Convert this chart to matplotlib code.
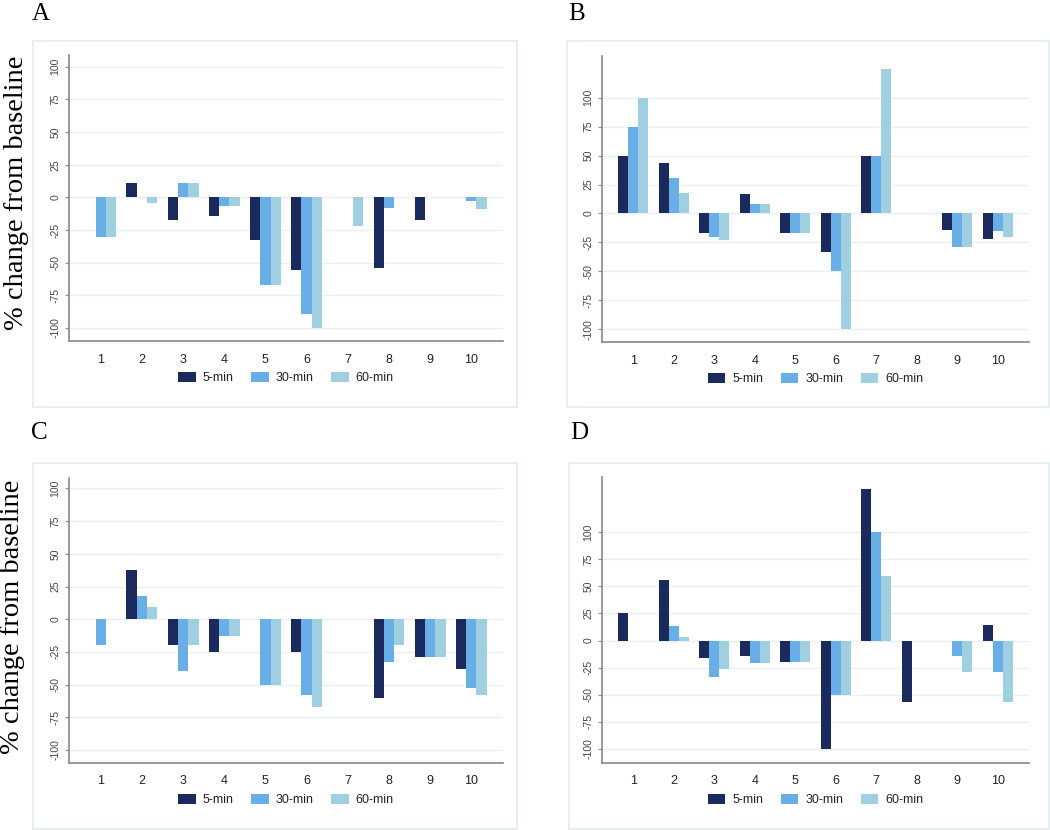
import matplotlib
matplotlib.use("Agg")
import matplotlib.pyplot as plt
from matplotlib.patches import Rectangle
import numpy as np

W, H = 1050, 830

categories = [1, 2, 3, 4, 5, 6, 7, 8, 9, 10]
series_names = ["5-min", "30-min", "60-min"]
series_colors = ["#1b2a5c", "#6aaee8", "#a0cfe1"]
y_ticks = [-100, -75, -50, -25, 0, 25, 50, 75, 100]

# Panel A
a_5min = [0, 11, -17, -14, -33, -56, 0, -54, -17, 0]
a_30min = [-30, 0, 11, -7, -67, -89, 0, -8, 0, -3]
a_60min = [-30, -4, 11, -7, -67, -100, -22, 0, 0, -9]
# Panel B
b_5min = [50, 44, -17, 17, -17, -33, 50, 0, -14, -22]
b_30min = [75, 31, -20, 8, -17, -50, 50, 0, -29, -15]
b_60min = [100, 18, -23, 8, -17, -100, 125, 0, -29, -20]
# Panel C
c_5min = [0, 38, -20, -25, 0, -25, 0, -60, -29, -38]
c_30min = [-20, 18, -40, -13, -50, -58, 0, -33, -29, -53]
c_60min = [0, 9, -20, -13, -50, -67, 0, -20, -29, -58]
# Panel D
d_5min = [25, 56, -16, -14, -20, -100, 140, -57, 0, 14]
d_30min = [0, 13, -34, -21, -20, -50, 100, 0, -14, -29]
d_60min = [0, 3, -26, -21, -20, -50, 60, 0, -29, -57]

panel_letters = ["A", "B", "C", "D"]
y_label = "% change from baseline"

panels = [
    dict(letter="A", data=[a_5min, a_30min, a_60min], ax_px=(69, 55, 503, 341), ylim=(-110, 109),
         frame=(33, 41, 517, 407), letter_xy=(41, 14)),
    dict(letter="B", data=[b_5min, b_30min, b_60min], ax_px=(602, 56, 1029, 342), ylim=(-111, 136),
         frame=(567, 41, 1049, 407), letter_xy=(577, 14)),
    dict(letter="C", data=[c_5min, c_30min, c_60min], ax_px=(69, 478, 503, 763), ylim=(-110, 108),
         frame=(33, 463, 517, 829), letter_xy=(39, 433)),
    dict(letter="D", data=[d_5min, d_30min, d_60min], ax_px=(602, 477, 1029, 763), ylim=(-113, 151),
         frame=(569, 463, 1049, 829), letter_xy=(579, 433)),
]

fig = plt.figure(figsize=(W / 100, H / 100), dpi=100)
fig.patch.set_facecolor("white")

def fx(px):
    return px / W

def fy(py):
    return 1 - py / H

for p in panels:
    # frame
    x0, y0, x1, y1 = p["frame"]
    fig.patches.append(Rectangle((fx(x0), fy(y1)), fx(x1 - x0), (y1 - y0) / H,
                                 transform=fig.transFigure, fill=False,
                                 edgecolor="#e3ebf0", linewidth=1.2, zorder=0))
    # letter
    fig.text(fx(p["letter_xy"][0]), fy(p["letter_xy"][1]), p["letter"],
             family="Liberation Serif", fontsize=18, ha="center", va="center")

    l, t, r, b = p["ax_px"]
    ax = fig.add_axes([fx(l), fy(b), fx(r - l), (b - t) / H])
    x = np.arange(len(categories)) + 1
    bw = 0.25
    for i, (vals, name, col) in enumerate(zip(p["data"], series_names, series_colors)):
        ax.bar(x + (i - 1) * bw, vals, width=bw, color=col, label=name, zorder=3, linewidth=0)
    ax.set_xlim(0.23, 10.77)
    ax.set_ylim(*p["ylim"])
    ax.set_yticks(y_ticks)
    ax.set_yticklabels([str(v) for v in y_ticks], rotation=90, va="center",
                       fontsize=7.5, color="#444444", family="Liberation Sans")
    ax.set_xticks(x)
    ax.set_xticklabels([str(c) for c in categories], fontsize=9, color="#222222",
                       family="Liberation Sans")
    ax.tick_params(axis="x", length=0, pad=9)
    ax.tick_params(axis="y", length=3, width=0.8, color="#888888", pad=3)
    ax.grid(axis="y", color="#e8f0f3", linewidth=1.0, zorder=0)
    for s in ["top", "right"]:
        ax.spines[s].set_visible(False)
    for s in ["left", "bottom"]:
        ax.spines[s].set_color("#888888")
        ax.spines[s].set_linewidth(1.2)
    ax.set_facecolor("white")
    leg = ax.legend(loc="center", bbox_to_anchor=(0.5, -0.13), ncol=3, frameon=False,
                    prop=dict(family="Liberation Sans", size=9),
                    handlelength=1.4, handleheight=0.9, handletextpad=0.55,
                    columnspacing=1.4)
    for txt in leg.get_texts():
        txt.set_color("#222222")

# y labels (panels A and C)
fig.text(fx(17), fy(193), y_label, rotation=90, family="Liberation Serif",
         fontsize=20.5, ha="center", va="center")
fig.text(fx(13), fy(617), y_label, rotation=90, family="Liberation Serif",
         fontsize=20.5, ha="center", va="center")

fig.savefig("out.png", dpi=100, facecolor="white")
